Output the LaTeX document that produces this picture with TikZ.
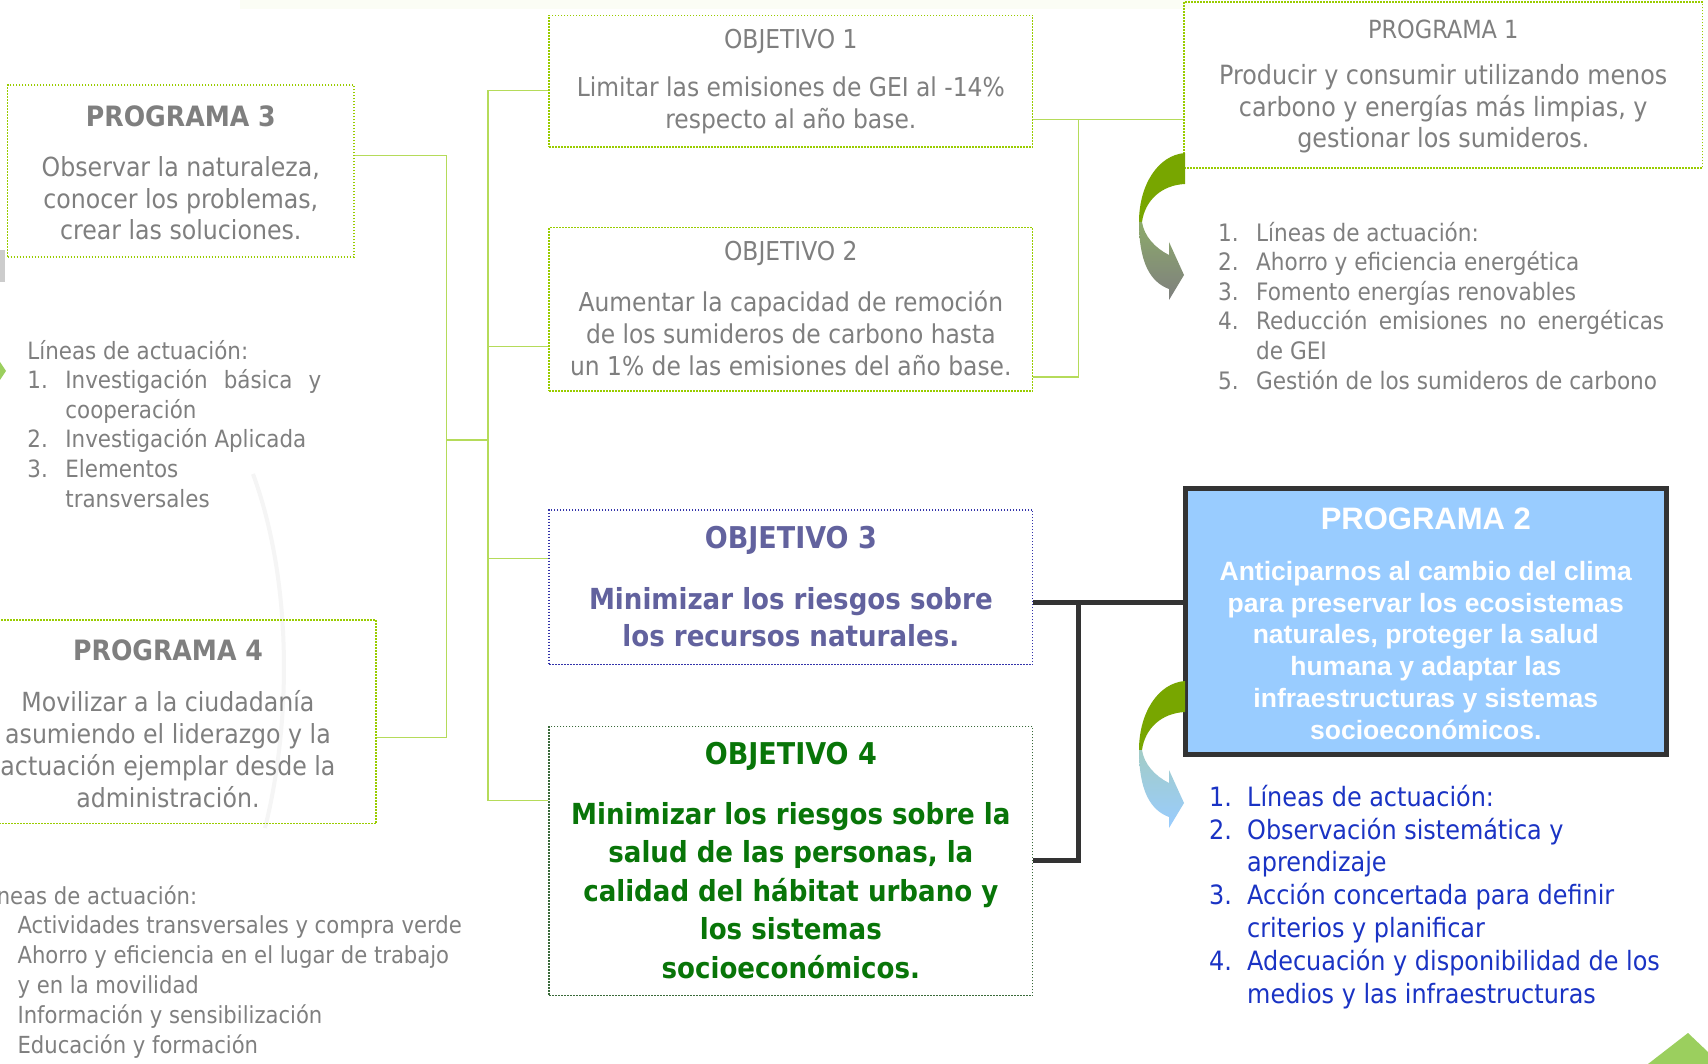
\documentclass[tikz,border=0pt]{standalone}
\usepackage{fontspec}
\setmainfont{DejaVu Sans Condensed}
\newfontfamily\arialf{Liberation Sans}
\usetikzlibrary{calc}
\definecolor{tgray}{HTML}{7F7F7F}
\definecolor{boxgreen}{HTML}{99CC00}
\definecolor{lingreen}{HTML}{B5DB5A}
\definecolor{dark}{HTML}{333333}
\definecolor{objblue}{HTML}{62629E}
\definecolor{objbluebd}{HTML}{3333AA}
\definecolor{objgreen}{HTML}{087508}
\definecolor{objgreenbd}{HTML}{3A6A3A}
\definecolor{ptwofill}{HTML}{99CCFF}
\definecolor{listblue}{HTML}{1A33C4}
\definecolor{arrgreen}{HTML}{78A600}
\definecolor{arrgreenb}{HTML}{8CAA6A}
\definecolor{arrgray}{HTML}{7F7F7F}
\definecolor{arrteal}{HTML}{A2CCC6}
\definecolor{leafgreen}{HTML}{9BCF5E}
\begin{document}
\begin{tikzpicture}[x=1pt,y=-1pt,
  gbox/.style={draw=boxgreen, line width=1.5pt, dash pattern=on 1.5pt off 1.5pt, inner sep=0pt, minimum width=#1},
  gbox/.default=483.7pt,
  bbox/.style={draw=objbluebd, line width=1.5pt, dash pattern=on 1.5pt off 1.5pt, inner sep=0pt, minimum width=483.7pt},
  dbox/.style={draw=objgreenbd, line width=1.5pt, dash pattern=on 1.5pt off 1.5pt, inner sep=0pt, minimum width=483.7pt},
  conn/.style={draw=lingreen, line width=1.2pt},
  thk/.style={draw=dark, line width=4.5pt, line join=miter},
  txt/.style={text=tgray, align=center, inner sep=0pt},
  lst/.style={text=tgray, align=left, inner sep=0pt, anchor=base west}
]
\useasboundingbox (0,0) rectangle (1708,1064);
\clip (0,0) rectangle (1708,1064);
\fill[white] (0,0) rectangle (1708,1064);
% faint decorations
\fill[color=boxgreen!4] (240,0) rectangle (1190,9);
\draw[black!4, line width=4pt] (253,474) .. controls (292,580) and (292,720) .. (265,828);
\fill[black!20] (0,250) rectangle (5,282);
\fill[leafgreen] (0,362) -- (6,371) -- (0,380) -- cycle;
\fill[leafgreen] (1648,1064) -- (1688,1033) -- (1708,1052) -- (1708,1064) -- cycle;

% boxes
\node[gbox=346.4pt, minimum height=172pt] (p3) at (180.8,171) {};
\node[gbox=416pt, minimum height=203.7pt] (p4) at (168,721.65) {};
\node[gbox, minimum height=131.7pt] (obj1) at (790.85,81.15) {};
\node[gbox, minimum height=163.3pt] (obj2) at (790.85,309.35) {};
\node[bbox, minimum height=154.7pt] (obj3) at (790.85,587.15) {};
\node[dbox, minimum height=269pt] (obj4) at (790.85,861.1) {};
\node[gbox=518.6pt, minimum height=165.6pt] (p1) at (1443.3,85) {};

% connector coordinates
\coordinate (v0top) at (446.6,155.8);
\coordinate (v0mid) at (446.6,440);
\coordinate (v0bot) at (446.6,737.5);
\coordinate (v1top) at (488,90.4);
\coordinate (v1o2) at (488,346.4);
\coordinate (v1o3) at (488,558.8);
\coordinate (v1o4) at (488,800.6);
\coordinate (r1) at (1078.4,119.8);
\coordinate (r2) at (1078.4,377);
\coordinate (r3) at (1078.4,602.4);
\coordinate (r4) at (1078.4,860.5);

\draw[conn] (p3.east |- v0top) -- (v0top) -- (v0bot) -- (p4.east |- v0bot);
\draw[conn] (v0mid) -- (v1o2 |- v0mid);
\draw[conn] (obj1.west |- v1top) -- (v1top) -- (v1o4) -- (obj4.west |- v1o4);
\draw[conn] (v1o2) -- (obj2.west |- v1o2);
\draw[conn] (v1o3) -- (obj3.west |- v1o3);
\draw[conn] (obj1.east |- r1) -- (r1) -- (r2) -- (obj2.east |- r2);
\draw[conn] (r1) -- (p1.west |- r1);

\node[draw=dark, line width=4.5pt, fill=ptwofill, inner sep=0pt, minimum width=481pt, minimum height=266pt] (p2) at (1425.8,621.5) {};
\draw[thk] (obj3.east |- r3) -- (r3) -- (r4) -- (obj4.east |- r4);
\draw[thk] (r3) -- (p2.west |- r3);

% curved arrows
\fill[arrgreen] (1185,153) .. controls (1158,155) and (1139,185) .. (1139,222) -- (1142,222) .. controls (1145,200) and (1162,185) .. (1185,184) -- cycle;
\shade[top color=arrgreenb, bottom color=arrgray] (1139,222) .. controls (1139,262) and (1150,282) .. (1169,289) -- (1169,300) -- (1184,275) -- (1169,242) -- (1169,255) .. controls (1155,248) and (1144,236) .. (1142,222) -- cycle;
\begin{scope}[shift={(0,528)}]
\fill[arrgreen] (1185,153) .. controls (1158,155) and (1139,185) .. (1139,222) -- (1142,222) .. controls (1145,200) and (1162,185) .. (1185,184) -- cycle;
\shade[top color=arrteal, bottom color=ptwofill] (1139,222) .. controls (1139,262) and (1150,282) .. (1169,289) -- (1169,300) -- (1184,275) -- (1169,242) -- (1169,255) .. controls (1155,248) and (1144,236) .. (1142,222) -- cycle;
\end{scope}

% texts
\node[txt, font=\fontsize{28}{34}\selectfont\bfseries] (p3t) at (180.8,116.5) {PROGRAMA 3};
\node[txt, font=\fontsize{26.3}{31.6}\selectfont] (p3b) at (180.8,198.3) {Observar la naturaleza,\\conocer los problemas,\\crear las soluciones.};

\node[txt, font=\fontsize{28}{34}\selectfont\bfseries] (p4t) at (168,650.3) {PROGRAMA 4};
\node[txt, font=\fontsize{26.3}{32}\selectfont] (p4b) at (168,749.5) {Movilizar a la ciudadanía\\asumiendo el liderazgo y la\\actuación ejemplar desde la\\administración.};

\node[txt, font=\fontsize{26}{30}\selectfont] (o1t) at (790.85,41.4) {OBJETIVO 1};
\node[txt, font=\fontsize{26}{31.6}\selectfont] (o1b) at (790.85,105.1) {Limitar las emisiones de GEI al -14\%\\respecto al año base.};

\node[txt, font=\fontsize{26}{30}\selectfont] (o2t) at (790.85,253.8) {OBJETIVO 2};
\node[txt, font=\fontsize{26}{31.6}\selectfont] (o2b) at (790.85,333.3) {Aumentar la capacidad de remoción\\de los sumideros de carbono hasta\\un 1\% de las emisiones del año base.};

\node[txt, text=objblue, font=\fontsize{30}{34}\selectfont\bfseries] (o3t) at (790.85,540.3) {OBJETIVO 3};
\node[txt, text=objblue, font=\fontsize{29}{37}\selectfont\bfseries] (o3b) at (790.85,617.6) {Minimizar los riesgos sobre\\los recursos naturales.};

\node[txt, text=objgreen, font=\fontsize{30}{34}\selectfont\bfseries] (o4t) at (790.85,756) {OBJETIVO 4};
\node[txt, text=objgreen, font=\fontsize{29}{38.4}\selectfont\bfseries] (o4b) at (790.85,890.5) {Minimizar los riesgos sobre la\\salud de las personas, la\\calidad del hábitat urbano y\\los sistemas\\socioeconómicos.};

\node[txt, font=\fontsize{25}{30}\selectfont] (p1t) at (1443.3,29.4) {PROGRAMA 1};
\node[txt, font=\fontsize{26.5}{31.6}\selectfont] (p1b) at (1443.3,108.9) {Producir y consumir utilizando menos\\carbono y energías más limpias, y\\gestionar los sumideros.};

\node[txt, text=white, font=\arialf\fontsize{31}{36}\selectfont\bfseries] (p2t) at (1425.8,518.5) {PROGRAMA 2};
\node[txt, text=white, font=\arialf\fontsize{26.5}{31.8}\selectfont\bfseries] (p2b) at (1425.8,650.3) {Anticiparnos al cambio del clima\\para preservar los ecosistemas\\naturales, proteger la salud\\humana y adaptar las\\infraestructuras y sistemas\\socioeconómicos.};

% lists (anchored at the baseline of their last line)
\node[lst, font=\fontsize{24}{29.6}\selectfont] (l1) at (1218,389) {\makebox[38pt][l]{1.}Líneas de actuación:\\\makebox[38pt][l]{2.}Ahorro y eficiencia energética\\\makebox[38pt][l]{3.}Fomento energías renovables\\\makebox[38pt][l]{4.}\makebox[408pt][s]{Reducción emisiones no energéticas}\\\hspace*{38pt}de GEI\\\makebox[38pt][l]{5.}Gestión de los sumideros de carbono};

\node[lst, font=\fontsize{23.8}{29.6}\selectfont] (l3) at (27.2,507) {Líneas de actuación:\\\makebox[38pt][l]{1.}\makebox[256pt][s]{Investigación básica y}\\\hspace*{38pt}cooperación\\\makebox[38pt][l]{2.}Investigación Aplicada\\\makebox[38pt][l]{3.}Elementos\\\hspace*{38pt}transversales};

\node[lst, font=\fontsize{23.5}{29.8}\selectfont] (l4) at (-21,1053) {Líneas de actuación:\\\makebox[38.4pt][l]{1.}Actividades transversales y compra verde\\\makebox[38.4pt][l]{2.}Ahorro y eficiencia en el lugar de trabajo\\\hspace*{38.4pt}y en la movilidad\\\makebox[38.4pt][l]{3.}Información y sensibilización\\\makebox[38.4pt][l]{4.}Educación y formación};

\node[lst, text=listblue, font=\fontsize{26.6}{32.8}\selectfont] (l2) at (1209,1003) {\makebox[38pt][l]{1.}Líneas de actuación:\\\makebox[38pt][l]{2.}Observación sistemática y\\\hspace*{38pt}aprendizaje\\\makebox[38pt][l]{3.}Acción concertada para definir\\\hspace*{38pt}criterios y planificar\\\makebox[38pt][l]{4.}Adecuación y disponibilidad de los\\\hspace*{38pt}medios y las infraestructuras};
\end{tikzpicture}
\end{document}
